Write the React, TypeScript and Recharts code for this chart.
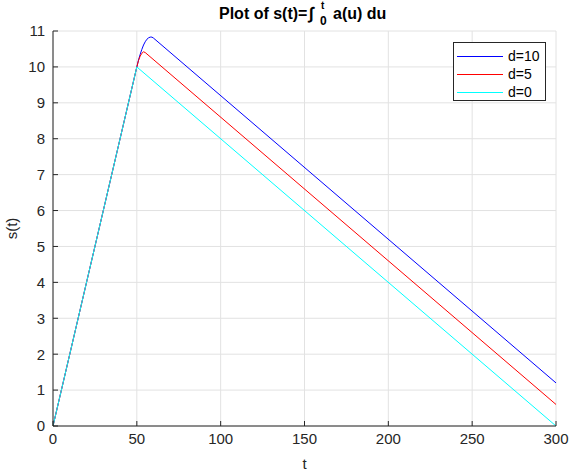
import React from 'react';
import { LineChart, Line, XAxis, YAxis, CartesianGrid } from 'recharts';

// Tick labels
const xTicks = [0, 50, 100, 150, 200, 250, 300];
const yTicks = [0, 1, 2, 3, 4, 5, 6, 7, 8, 9, 10, 11];

// Series
const tD10 = [0, 50, 51, 52, 53, 54, 55, 56, 57, 58, 59, 60, 300];
const sD10 = [0, 10, 10.19, 10.35, 10.49, 10.61, 10.7, 10.77, 10.81, 10.83, 10.83, 10.8, 1.2];

const tD5 = [0, 50, 51, 52, 53, 54, 55, 300];
const sD5 = [0, 10, 10.18, 10.3, 10.38, 10.42, 10.4, 0.6];

const tD0 = [0, 50, 300];
const sD0 = [0, 10, 0];

const seriesNames = ['d=10', 'd=5', 'd=0'];
const seriesColors = ['#0000ff', '#ff0000', '#00ffff'];

const toRows = (t: number[], s: number[]) => t.map((v, i) => ({ t: v, s: s[i] }));
const seriesData = [toRows(tD10, sD10), toRows(tD5, sD5), toRows(tD0, sD0)];

const FONT = '"Liberation Sans", Arial, Helvetica, sans-serif';
const AX = '#262626';

export default function App() {
  return (
    <div style={{ position: 'absolute', left: 0, top: 0, width: 569, height: 476, background: '#fff', fontFamily: FONT }}>
      <LineChart width={569} height={476} margin={{ top: 31, right: 13, bottom: 0, left: 0 }} style={{ fontFamily: FONT }}>
        <CartesianGrid xAxisId="b" yAxisId="l" stroke="#e2e2e2" strokeWidth={1} />
        <XAxis
          xAxisId="b"
          dataKey="t"
          type="number"
          domain={[0, 300]}
          ticks={xTicks}
          interval={0}
          height={50}
          tickSize={-5}
          tickMargin={12}
          stroke={AX}
          tick={{ fill: AX, fontSize: 15 }}
          allowDataOverflow
        />
        <XAxis
          xAxisId="top"
          orientation="top"
          dataKey="t"
          type="number"
          domain={[0, 300]}
          ticks={xTicks}
          interval={0}
          height={0}
          tickSize={-5}
          tick={false}
          stroke={AX}
          allowDataOverflow
        />
        <YAxis
          yAxisId="l"
          type="number"
          domain={[0, 11]}
          ticks={yTicks}
          interval={0}
          width={53}
          tickSize={-5}
          tickMargin={13}
          stroke={AX}
          tick={{ fill: AX, fontSize: 15 }}
          allowDataOverflow
        />
        <YAxis
          yAxisId="r"
          orientation="right"
          type="number"
          domain={[0, 11]}
          ticks={yTicks}
          interval={0}
          width={0}
          tickSize={-5}
          tick={false}
          stroke={AX}
          allowDataOverflow
        />
        {seriesData.map((d, i) => (
          <Line
            key={seriesNames[i]}
            xAxisId="b"
            yAxisId="l"
            data={d}
            dataKey="s"
            type="linear"
            stroke={seriesColors[i]}
            strokeWidth={1}
            dot={false}
            activeDot={false}
            isAnimationActive={false}
          />
        ))}
      </LineChart>

      <svg width={569} height={476} style={{ position: 'absolute', left: 0, top: 0, pointerEvents: 'none' }}>
        <g fontFamily={FONT} fill="#000">
          <text x={219} y={18.5} fontSize={16} fontWeight="bold">Plot of s(t)=</text>
          <text x={309} y={19} fontSize={17} fontWeight="bold" fontStyle="italic">∫</text>
          <text x={321} y={9} fontSize={10} fontWeight="bold">t</text>
          <text x={320} y={25} fontSize={12} fontWeight="bold">0</text>
          <text x={333} y={18.5} fontSize={16} fontWeight="bold">a(u) du</text>
        </g>
        <text x={304.5} y={469} fontSize={15} fill={AX} textAnchor="middle" fontFamily={FONT}>t</text>
        <text
          x={0}
          y={0}
          fontSize={15}
          fill={AX}
          textAnchor="middle"
          fontFamily={FONT}
          transform="translate(17,228.5) rotate(-90)"
        >
          s(t)
        </text>
      </svg>

      <div
        style={{
          position: 'absolute',
          left: 453,
          top: 42,
          width: 93,
          height: 59,
          border: '1px solid #262626',
          background: '#fff',
          boxSizing: 'border-box',
          fontFamily: FONT,
          fontSize: 14,
          color: '#000',
        }}
      >
        {seriesNames.map((n, i) => (
          <div key={n} style={{ position: 'absolute', left: 3, top: 4 + i * 18, height: 18, display: 'flex', alignItems: 'center' }}>
            <div style={{ width: 46, height: 1, background: seriesColors[i] }} />
            <span style={{ marginLeft: 5, lineHeight: '18px' }}>{n}</span>
          </div>
        ))}
      </div>
    </div>
  );
}
